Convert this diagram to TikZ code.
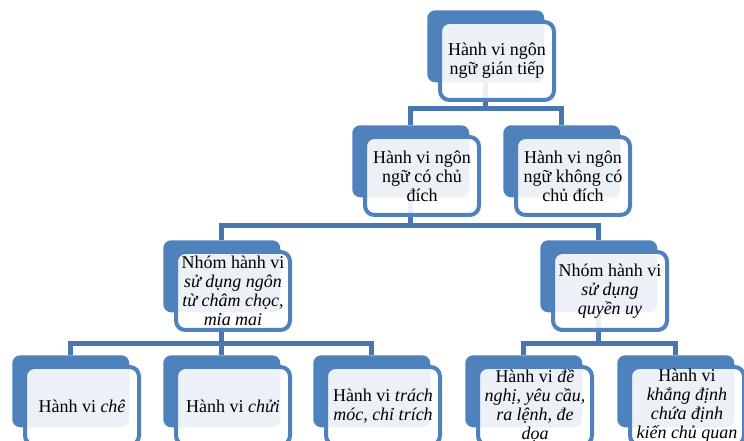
\documentclass[tikz,border=0pt]{standalone}
\usepackage{fontspec}
\setmainfont{Liberation Serif}
\usetikzlibrary{calc,positioning}
\pgfdeclarelayer{background}
\pgfsetlayers{background,main}
\definecolor{sablue}{HTML}{4F81BD}
\definecolor{salink}{HTML}{4976B1}
\tikzstyle{back}      = [draw=none, fill=sablue, rounded corners=6pt, minimum width=87.75pt, minimum height=54pt, anchor=north west, inner sep=0pt]
\tikzstyle{front}     = [draw=sablue, line width=3pt, fill=white, fill opacity=0.89, rounded corners=7pt, minimum width=85.5pt, minimum height=58.5pt, anchor=north west, inner sep=0pt]
\tikzstyle{boxtext}   = [align=center, inner sep=0pt, font=\fontsize{13.5}{14.3}\selectfont]
\tikzstyle{link}      = [draw=salink, line width=3.75pt]
\newcommand{\hvbox}[3]{%
  \node[back] (#1) at (#2) {};
  \node[front] (#1-f) at ($(#1.north west)+(11,10)$) {};
  \node[boxtext] (#1-t) at (#1-f.center) {#3};
}

\begin{document}
\begin{tikzpicture}[x=0.75pt,y=-0.75pt]
        \useasboundingbox (0,0) rectangle (744,441);

        \hvbox{hvgt}{427,10}{Hành vi ngôn\\ngữ gián tiếp}

        \hvbox{cochu}{352,125}{Hành vi ngôn\\ngữ có chủ\\đích}
        \hvbox{khongchu}{503,125}{Hành vi ngôn\\ngữ không có\\chủ đích}

        \hvbox{chamchoc}{163,240}{Nhóm hành vi\\\textit{sử dụng ngôn}\\\textit{từ châm chọc,}\\\textit{mỉa mai}}
        \hvbox{quyenuy}{540,240}{Nhóm hành vi\\\textit{sử dụng}\\\textit{quyền uy}}

        \hvbox{che}{12,355}{Hành vi \textit{chê}}
        \hvbox{chui}{163,355}{Hành vi \textit{chửi}}
        \hvbox{trachmoc}{313,355}{Hành vi \textit{trách}\\\textit{móc, chỉ trích}}
        \hvbox{denghi}{465,355}{Hành vi \textit{đề}\\\textit{nghị, yêu cầu,}\\\textit{ra lệnh, đe}\\\textit{dọa}}
        \hvbox{khangdinh}{617,355}{Hành vi\\\textit{khẳng định}\\\textit{chứa định}\\\textit{kiến chủ quan}}

        \begin{pgfonlayer}{background}
            \coordinate (bar1) at (0,109);
            \coordinate (bar2) at (0,226);
            \coordinate (bar3) at (0,344);
            \foreach \c in {cochu,khongchu}
                \draw[link] (hvgt.south) -- (hvgt.south |- bar1) -| (\c.north);
            \foreach \c in {chamchoc,quyenuy}
                \draw[link] (cochu.south) -- (cochu.south |- bar2) -| (\c.north);
            \foreach \c in {che,chui,trachmoc}
                \draw[link] (chamchoc.south) -- (chamchoc.south |- bar3) -| (\c.north);
            \foreach \c in {denghi,khangdinh}
                \draw[link] (quyenuy.south) -- (quyenuy.south |- bar3) -| (\c.north);
        \end{pgfonlayer}
    \end{tikzpicture}
\end{document}
